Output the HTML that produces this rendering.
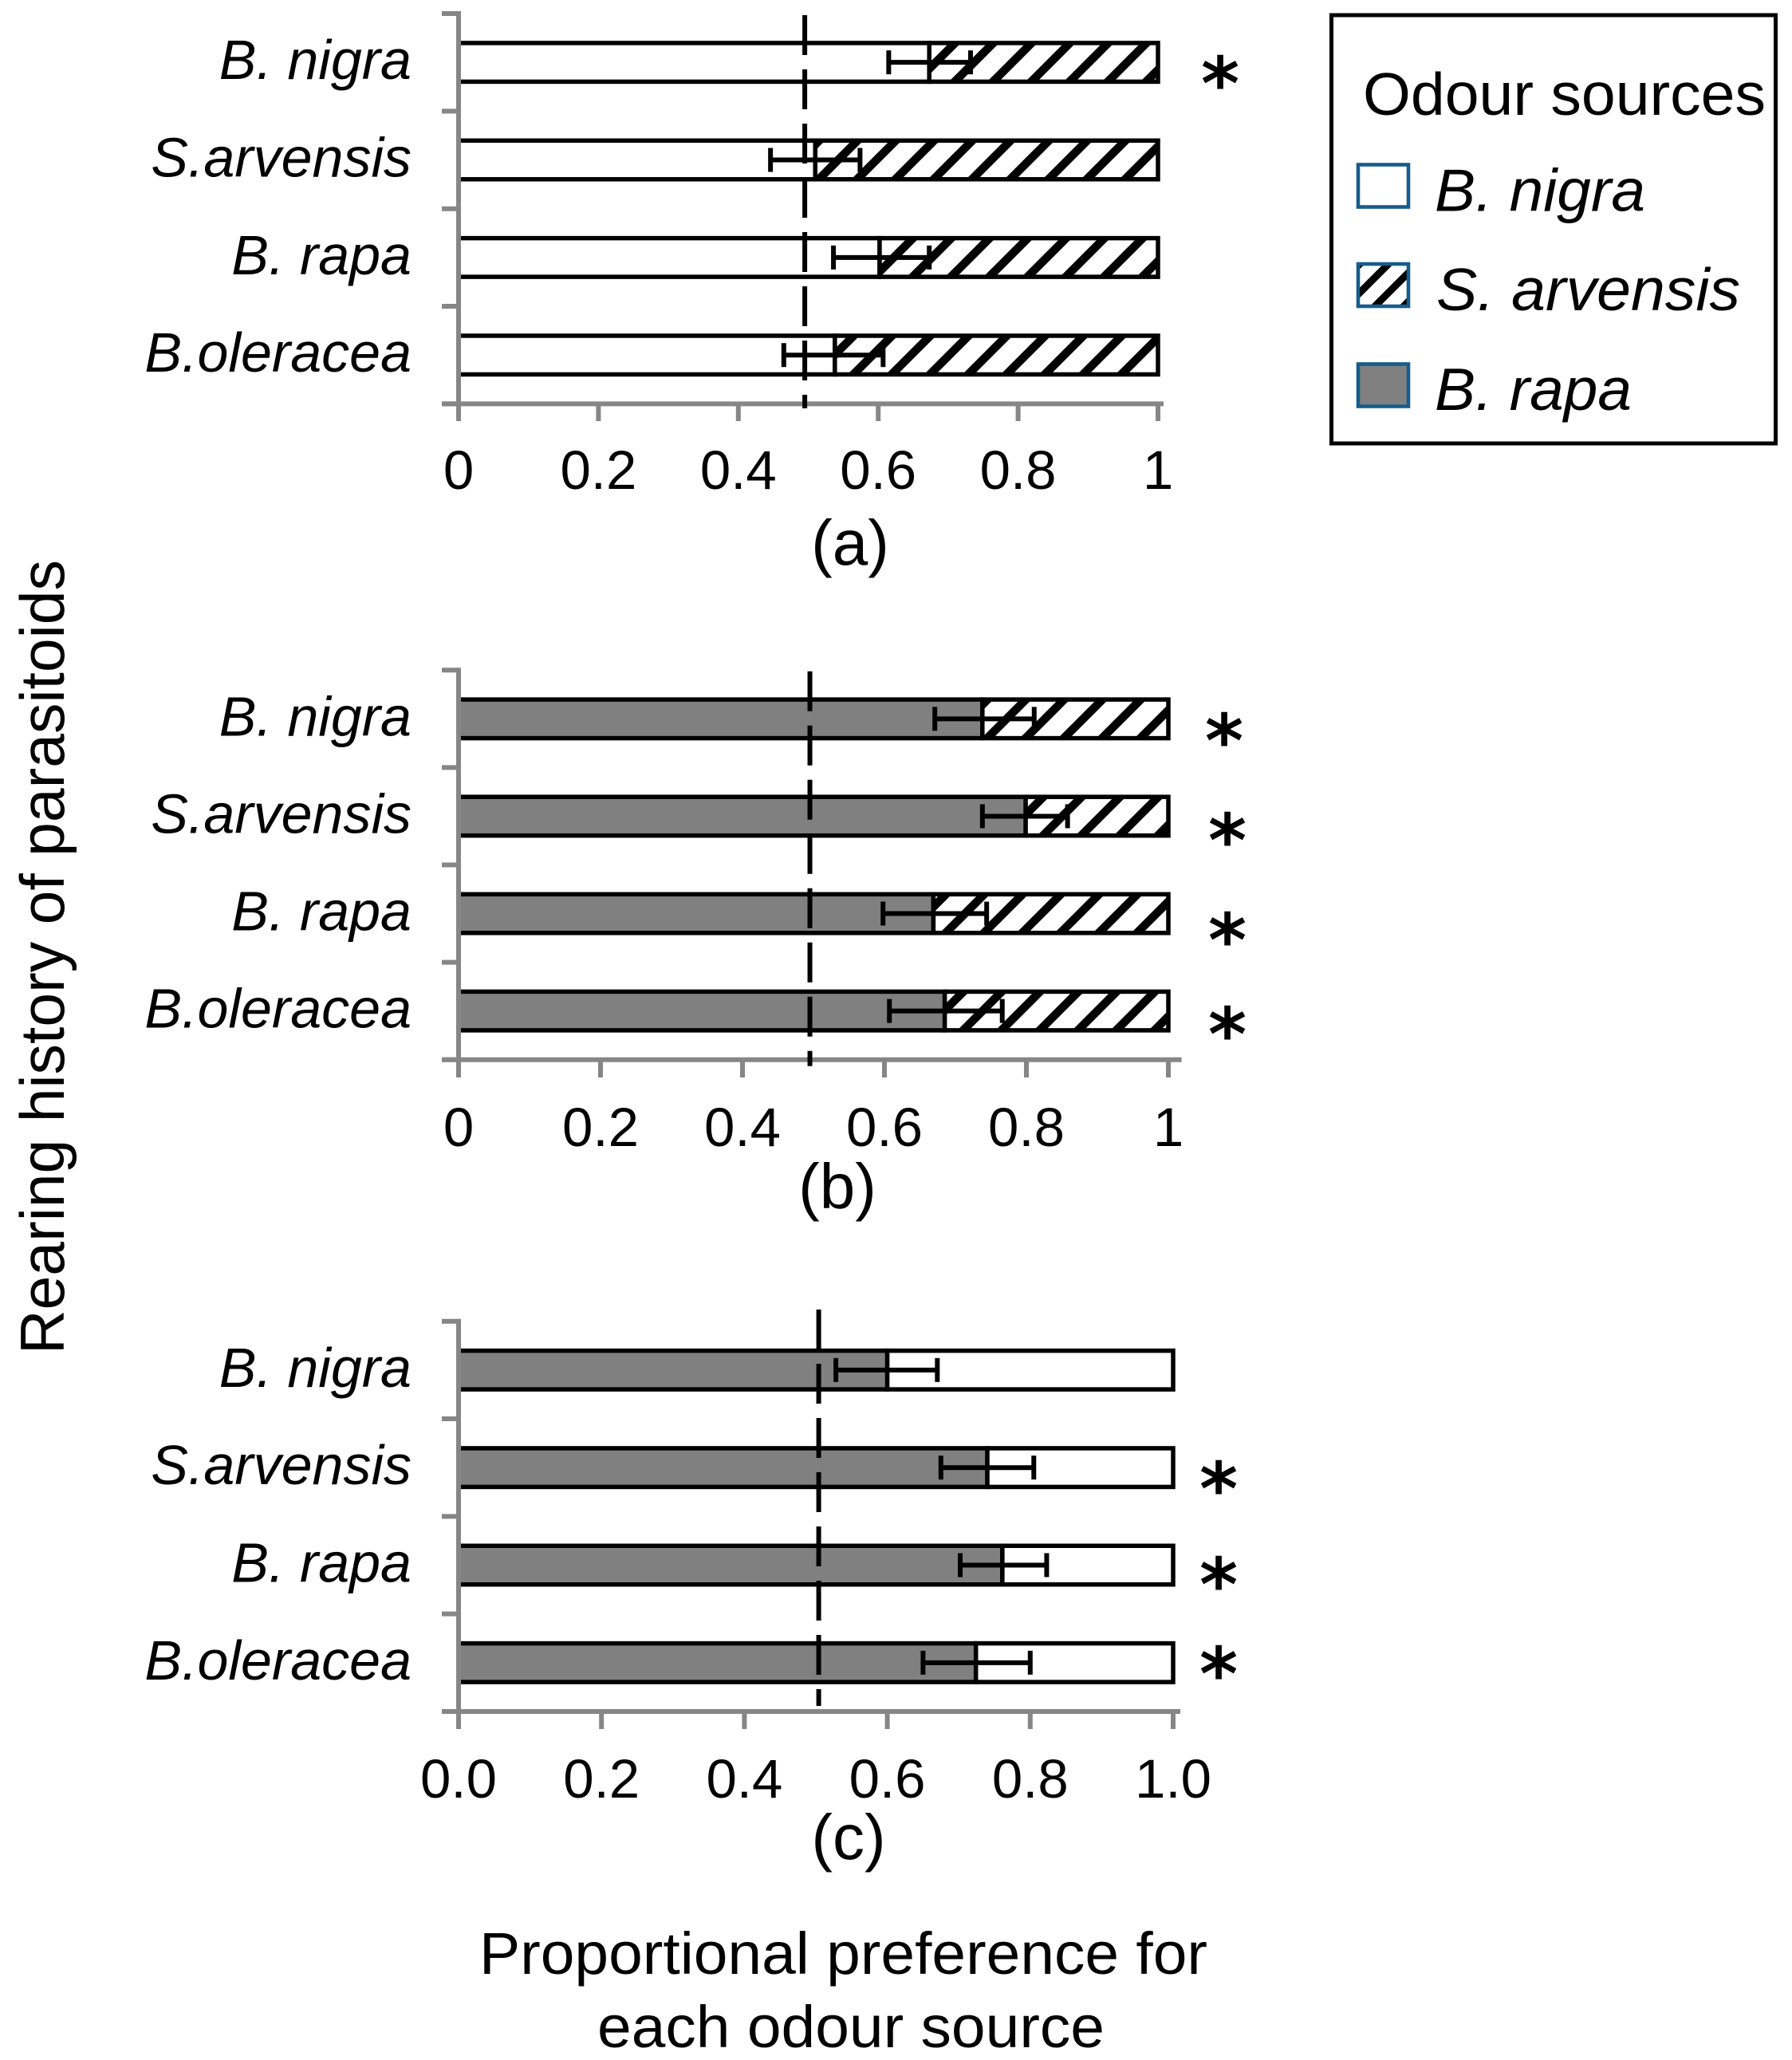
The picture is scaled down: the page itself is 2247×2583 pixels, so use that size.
<!DOCTYPE html>
<html lang="en">
<head>
<meta charset="utf-8">
<title>Proportional preference for each odour source</title>
<style>
html,body{margin:0;padding:0;background:#fff;}
svg{display:block;}
text{font-family:"Liberation Sans",sans-serif;fill:#000;}
</style>
</head>
<body>
<svg id="chart" xmlns="http://www.w3.org/2000/svg" width="2247" height="2583" viewBox="0 0 2247 2583">
  <defs>
    <pattern id="hatch" patternUnits="userSpaceOnUse" width="48" height="48">
      <rect width="48" height="48" fill="#fff"/>
      <g stroke="#000" stroke-width="10.5" fill="none">
        <line x1="13.5" y1="-10" x2="-10" y2="13.5"/>
        <line x1="61.5" y1="-10" x2="-10" y2="61.5"/>
        <line x1="109.5" y1="-10" x2="-10" y2="109.5"/>
      </g>
    </pattern>
    <pattern id="hatch-legend" patternUnits="userSpaceOnUse" width="36" height="36" patternTransform="translate(1703 331)">
      <rect width="36" height="36" fill="#fff"/>
      <g stroke="#000" stroke-width="9" fill="none">
        <line x1="12" y1="-10" x2="-10" y2="12"/>
        <line x1="48" y1="-10" x2="-10" y2="48"/>
        <line x1="84" y1="-10" x2="-10" y2="84"/>
      </g>
    </pattern>
  </defs>
  <rect width="2247" height="2583" fill="#fff"/>

  <g id="panels"></g>

  <g font-size="92" font-weight="bold" text-anchor="middle">
    <text x="1530" y="137" style="font-family:'DejaVu Sans',sans-serif">*</text>
    <text x="1535" y="961" style="font-family:'DejaVu Sans',sans-serif">*</text>
    <text x="1539" y="1086" style="font-family:'DejaVu Sans',sans-serif">*</text>
    <text x="1539" y="1211" style="font-family:'DejaVu Sans',sans-serif">*</text>
    <text x="1539" y="1329" style="font-family:'DejaVu Sans',sans-serif">*</text>
    <text x="1528" y="1899" style="font-family:'DejaVu Sans',sans-serif">*</text>
    <text x="1528" y="2019" style="font-family:'DejaVu Sans',sans-serif">*</text>
    <text x="1528" y="2131" style="font-family:'DejaVu Sans',sans-serif">*</text>
  </g>

  <text transform="translate(80 1698) rotate(-90)" font-size="78" textLength="996" lengthAdjust="spacingAndGlyphs">Rearing history of parasitoids</text>
  <text x="601" y="2475" font-size="74" textLength="913" lengthAdjust="spacingAndGlyphs">Proportional preference for</text>
  <text x="749" y="2567" font-size="74" textLength="636" lengthAdjust="spacingAndGlyphs">each odour source</text>

  <g>
    <rect x="1669.5" y="19" width="557" height="537" fill="#fff" stroke="#000" stroke-width="5"/>
    <text x="1709" y="144" font-size="75" textLength="505" lengthAdjust="spacingAndGlyphs">Odour sources</text>
    <rect x="1703" y="206.5" width="63" height="53" fill="#fff" stroke="#175c8c" stroke-width="4.6"/>
    <text x="1799" y="264.5" font-size="75" font-style="italic" textLength="264" lengthAdjust="spacingAndGlyphs">B. nigra</text>
    <rect x="1703" y="331" width="63" height="53" fill="url(#hatch-legend)" stroke="#175c8c" stroke-width="4.6"/>
    <text x="1801" y="389" font-size="75" font-style="italic" textLength="381" lengthAdjust="spacingAndGlyphs">S. arvensis</text>
    <rect x="1703" y="456.5" width="63" height="53" fill="#808080" stroke="#175c8c" stroke-width="4.6"/>
    <text x="1799" y="514" font-size="75" font-style="italic" textLength="247" lengthAdjust="spacingAndGlyphs">B. rapa</text>
  </g>
</svg>

<script>
// ---- chart values ----
const categories = ['B. nigra', 'S.arvensis', 'B. rapa', 'B.oleracea'];

const panelAShare = [0.673, 0.510, 0.602, 0.538];
const panelAErrLow = [0.615, 0.446, 0.536, 0.465];
const panelAErrHigh = [0.732, 0.574, 0.673, 0.607];

const panelBShare = [0.738, 0.799, 0.669, 0.685];
const panelBErrLow = [0.671, 0.738, 0.598, 0.607];
const panelBErrHigh = [0.811, 0.858, 0.744, 0.766];

const panelCShare = [0.600, 0.740, 0.761, 0.724];
const panelCErrLow = [0.528, 0.675, 0.702, 0.650];
const panelCErrHigh = [0.670, 0.805, 0.823, 0.800];

const panelATickLabels = ['0', '0.2', '0.4', '0.6', '0.8', '1'];
const panelBTickLabels = ['0', '0.2', '0.4', '0.6', '0.8', '1'];
const panelCTickLabels = ['0.0', '0.2', '0.4', '0.6', '0.8', '1.0'];

const panelAReference = 0.495;
const panelBReference = 0.495;
const panelCReference = 0.504;

// ---- layout (not data) ----
const NS = 'http://www.w3.org/2000/svg';
const AXIS = '#868686';
const root = document.getElementById('panels');

const panels = [
  { id: 'a', title: '(a)', share: panelAShare, low: panelAErrLow, high: panelAErrHigh, ticks: panelATickLabels,
    reference: panelAReference, firstFill: '#fff', secondFill: 'url(#hatch)',
    x0: 575, x1: 1452, yTop: 17, yBottom: 506.4, axisEnd: 1459, tickEnd: 528,
    tickBase: 613, titleX: 1066, titleBase: 708, refTop: 19, refBottom: 512 },
  { id: 'b', title: '(b)', share: panelBShare, low: panelBErrLow, high: panelBErrHigh, ticks: panelBTickLabels,
    reference: panelBReference, firstFill: '#808080', secondFill: 'url(#hatch)',
    x0: 575, x1: 1465, yTop: 840.3, yBottom: 1328.7, axisEnd: 1481.6, tickEnd: 1351,
    tickBase: 1437, titleX: 1050, titleBase: 1515, refTop: 841.7, refBottom: 1336.8 },
  { id: 'c', title: '(c)', share: panelCShare, low: panelCErrLow, high: panelCErrHigh, ticks: panelCTickLabels,
    reference: panelCReference, firstFill: '#808080', secondFill: '#fff',
    x0: 575, x1: 1471, yTop: 1656.7, yBottom: 2146, axisEnd: 1480, tickEnd: 2168,
    tickBase: 2254, titleX: 1064, titleBase: 2331, refTop: 1642, refBottom: 2139 }
];

function lineEl(parent, x1, y1, x2, y2, color, width) {
  const el = document.createElementNS(NS, 'line');
  el.setAttribute('x1', x1);
  el.setAttribute('y1', y1);
  el.setAttribute('x2', x2);
  el.setAttribute('y2', y2);
  el.setAttribute('stroke', color);
  el.setAttribute('stroke-width', width);
  parent.appendChild(el);
  return el;
}

function textEl(parent, content, x, y, size, anchor) {
  const el = document.createElementNS(NS, 'text');
  el.setAttribute('x', x);
  el.setAttribute('y', y);
  el.setAttribute('font-size', size);
  el.setAttribute('text-anchor', anchor);
  el.textContent = content;
  parent.appendChild(el);
  return el;
}

function barEl(parent, x, y, w, h, fill) {
  const el = document.createElementNS(NS, 'rect');
  el.setAttribute('x', x);
  el.setAttribute('y', y);
  el.setAttribute('width', w);
  el.setAttribute('height', h);
  el.setAttribute('fill', fill);
  el.setAttribute('stroke', '#000');
  el.setAttribute('stroke-width', 5.5);
  parent.appendChild(el);
  return el;
}

panels.forEach(function (p) {
  const xScale = function (v) { return p.x0 + (p.x1 - p.x0) * v; };
  const band = (p.yBottom - p.yTop) / categories.length;
  const yCenter = function (i) { return p.yTop + band * (i + 0.5); };
  const barH = 48.5;

  const g = document.createElementNS(NS, 'g');
  
  
  root.appendChild(g);

  // stacked bars
  categories.forEach(function (cat, i) {
    const slug = cat.toLowerCase().replace(/[^a-z]+/g, '-');
    const top = yCenter(i) - barH / 2;
    const xMid = xScale(p.share[i]);
    const first = barEl(g, p.x0, top, xMid - p.x0, barH, p.firstFill);
    
    
    const second = barEl(g, xMid, top, xScale(1) - xMid, barH, p.secondFill);
    
    
  });

  // axes on top of the bar edges
  const yAxis = lineEl(g, p.x0, p.yTop - 3, p.x0, p.tickEnd, AXIS, 6);
  
  
  const xAxis = lineEl(g, p.x0 - 21, p.yBottom, p.axisEnd, p.yBottom, AXIS, 6);
  
  

  for (let i = 0; i <= categories.length; i++) {
    const y = p.yTop + band * i;
    const yTick = lineEl(g, p.x0 - 21, y, p.x0, y, AXIS, 6);
    
    
  }

  p.ticks.forEach(function (label) {
    const v = parseFloat(label);
    const xTick = lineEl(g, xScale(v), p.yBottom, xScale(v), p.tickEnd, AXIS, 6);
    
    
    const tickText = textEl(g, label, xScale(v), p.tickBase, 69, 'middle');
    
    
  });

  // category labels
  categories.forEach(function (cat, i) {
    const slug = cat.toLowerCase().replace(/[^a-z]+/g, '-');
    const label = textEl(g, cat, 0, 0, 70, 'end');
    label.setAttribute('font-style', 'italic');
    label.setAttribute('transform', 'translate(516 ' + (yCenter(i) + 21) + ')');
    
    
  });

  // error bars
  categories.forEach(function (cat, i) {
    const slug = cat.toLowerCase().replace(/[^a-z]+/g, '-');
    const y = yCenter(i);
    const xLo = xScale(p.low[i]);
    const xHi = xScale(p.high[i]);
    const stem = lineEl(g, xLo, y, xHi, y, '#000', 6);
    
    
    const capLo = lineEl(g, xLo, y - 15, xLo, y + 15, '#000', 6);
    
    
    const capHi = lineEl(g, xHi, y - 15, xHi, y + 15, '#000', 6);
    
    
  });

  // dashed 0.5 reference line
  const refX = xScale(p.reference);
  const ref = lineEl(g, refX, p.refTop, refX, p.refBottom, '#000', 6);
  ref.setAttribute('stroke-dasharray', '50 18');
  
  

  // panel caption
  const cap = textEl(g, p.title, p.titleX, p.titleBase, 80, 'middle');
  
  
});
</script>
</body>
</html>
